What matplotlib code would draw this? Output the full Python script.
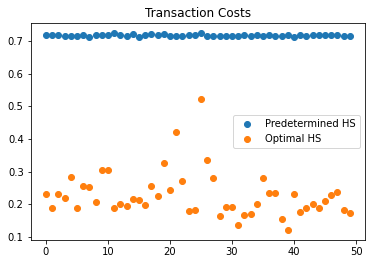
import matplotlib
matplotlib.use("Agg")
import matplotlib.pyplot as plt
import numpy as np

predetermined = [0.719, 0.719, 0.719, 0.717, 0.716, 0.717, 0.719, 0.712, 0.721, 0.720,
                 0.721, 0.727, 0.720, 0.716, 0.722, 0.714, 0.721, 0.722, 0.721, 0.722,
                 0.718, 0.716, 0.717, 0.719, 0.720, 0.727, 0.716, 0.716, 0.716, 0.718,
                 0.718, 0.717, 0.719, 0.717, 0.719, 0.718, 0.719, 0.717, 0.716, 0.719,
                 0.712, 0.719, 0.718, 0.721, 0.720, 0.721, 0.719, 0.720, 0.717, 0.716]
optimal = [0.230, 0.188, 0.230, 0.218, 0.282, 0.188, 0.255, 0.252, 0.206, 0.304,
           0.304, 0.188, 0.200, 0.194, 0.215, 0.212, 0.197, 0.255, 0.224, 0.325,
           0.243, 0.423, 0.270, 0.178, 0.181, 0.524, 0.334, 0.279, 0.163, 0.191,
           0.191, 0.136, 0.166, 0.169, 0.200, 0.279, 0.233, 0.233, 0.154, 0.120,
           0.230, 0.175, 0.188, 0.200, 0.188, 0.209, 0.227, 0.236, 0.181, 0.172]
x = np.arange(len(predetermined))

fig = plt.figure(figsize=(372/72, 264/72), dpi=72)
ax = fig.add_axes([30.7/372, 1 - 240/264, (365 - 30.7)/372, (240 - 22.7)/264])
ax.scatter(x, predetermined, s=36, color="#1f77b4", label="Predetermined HS")
ax.scatter(x, optimal, s=36, color="#ff7f0e", label="Optimal HS")
ax.set_title("Transaction Costs", fontsize=12)
ax.legend(loc="center right")
fig.savefig("out.png", dpi=72)
